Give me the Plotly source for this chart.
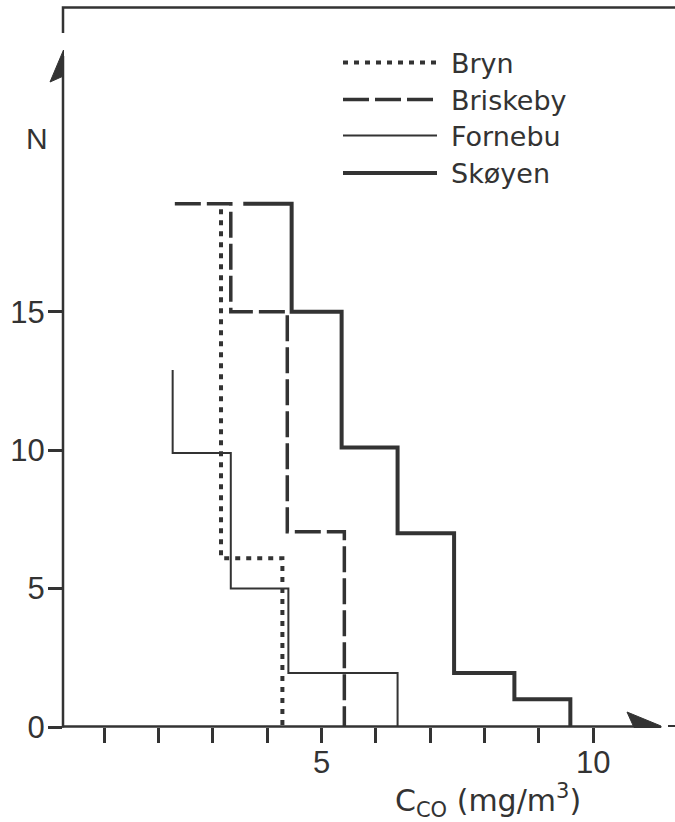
import plotly.graph_objects as go

# ---------------- data ----------------
series_names = ["Bryn", "Briskeby", "Fornebu", "Skøyen"]

bryn_edges = [3.15, 4.28]
bryn_counts = [6.1]
bryn_start = 18.7

briskeby_edges = [2.30, 3.33, 4.37, 5.42]
briskeby_counts = [18.9, 15.0, 7.05]

fornebu_edges = [2.26, 3.33, 4.39, 6.40]
fornebu_counts = [9.9, 5.0, 1.95]
fornebu_start = 12.9

skoyen_edges = [3.56, 4.45, 5.37, 6.40, 7.44, 8.55, 9.58]
skoyen_counts = [18.9, 15.0, 10.1, 7.0, 1.95, 1.0]

x_major_ticks = [5, 10]
x_major_labels = ["5", "10"]
x_minor_ticks = [1, 2, 3, 4, 6, 7, 8, 9]
y_ticks = [0, 5, 10, 15]
y_tick_labels = ["0", "5", "10", "15"]

x_title = "C<sub>CO</sub> (mg/m<sup>3</sup>)"
y_title = "N"

# ---------------- layout constants ----------------
W, H = 675, 822
ML, MR, MT, MB = 63, 0, 0, 95
X_PX0, X_PX_PER = 49.87, 54.33      # pixel of x=0, pixels per unit
Y_PX0, Y_PX_PER = 726.7, 27.67      # pixel of N=0, pixels per unit
INK = "#333333"

x_range = [(ML - X_PX0) / X_PX_PER, (W - MR - X_PX0) / X_PX_PER]
y_range = [0, (Y_PX0 - MT) / Y_PX_PER]

PW = W - ML - MR
PH = H - MT - MB


def px(xp):
    return (xp - ML) / PW


def py(yp):
    return (H - MB - yp) / PH


def step_path(edges, counts, start=None):
    xs, ys = [], []
    if start is not None:
        xs.append(edges[0])
        ys.append(start)
    for i, c in enumerate(counts):
        xs += [edges[i], edges[i + 1]]
        ys += [c, c]
    xs.append(edges[-1])
    ys.append(0)
    return xs, ys


styles = {
    "Bryn": dict(width=4, dash="5px,6px"),
    "Briskeby": dict(width=3.5, dash="26px,6px"),
    "Fornebu": dict(width=2, dash="solid"),
    "Skøyen": dict(width=4, dash="solid"),
}

paths = {
    "Bryn": step_path(bryn_edges, bryn_counts, bryn_start),
    "Briskeby": step_path(briskeby_edges, briskeby_counts),
    "Fornebu": step_path(fornebu_edges, fornebu_counts, fornebu_start),
    "Skøyen": step_path(skoyen_edges, skoyen_counts),
}

fig = go.Figure()
for name in ["Fornebu", "Bryn", "Briskeby", "Skøyen"]:
    xs, ys = paths[name]
    st = styles[name]
    fig.add_trace(go.Scatter(
        x=xs, y=ys, mode="lines", name=name, showlegend=False,
        line=dict(color=INK, width=st["width"], dash=st["dash"]),
        cliponaxis=False,
    ))

shapes = []
# x axis line + arrow
shapes.append(dict(type="line", xref="paper", yref="paper",
                   x0=px(62), y0=py(726.5), x1=px(650), y1=py(726.5),
                   line=dict(color=INK, width=2.5)))
shapes.append(dict(type="path", xref="paper", yref="paper",
                   path=f"M{px(661)},{py(726)} L{px(627)},{py(712)} L{px(634)},{py(727.5)} L{px(661)},{py(727.5)} Z",
                   fillcolor=INK, line=dict(color=INK, width=1)))
shapes.append(dict(type="line", xref="paper", yref="paper",
                   x0=px(668), y0=py(726), x1=px(675), y1=py(726),
                   line=dict(color=INK, width=2)))
# y axis line + arrow
shapes.append(dict(type="line", xref="paper", yref="paper",
                   x0=px(63), y0=py(727.5), x1=px(63), y1=py(56),
                   line=dict(color=INK, width=2.5)))
shapes.append(dict(type="path", xref="paper", yref="paper",
                   path=f"M{px(63.5)},{py(50)} L{px(50)},{py(82)} L{px(63.5)},{py(76)} Z",
                   fillcolor=INK, line=dict(color=INK, width=1)))
# top frame
shapes.append(dict(type="path", xref="paper", yref="paper",
                   path=f"M{px(63)},{py(33)} L{px(63)},{py(7.5)} L{px(676)},{py(7.5)}",
                   line=dict(color=INK, width=2.5)))

annotations = []
# legend
legend_rows = [62.5, 99.5, 135.5, 173]
for name, yrow in zip(series_names, legend_rows):
    st = styles[name]
    shapes.append(dict(type="line", xref="paper", yref="paper",
                       x0=px(343), y0=py(yrow), x1=px(437), y1=py(yrow),
                       line=dict(color=INK, width=st["width"], dash=st["dash"])))
    annotations.append(dict(xref="paper", yref="paper", x=px(449), y=py(yrow + 1),
                            text=name, showarrow=False, xanchor="left", yanchor="middle",
                            font=dict(family="DejaVu Sans", size=27, color=INK)))

annotations.append(dict(xref="paper", yref="paper", x=px(488), y=py(800),
                        text=x_title, showarrow=False, xanchor="center", yanchor="middle",
                        font=dict(family="DejaVu Sans", size=30, color=INK)))
annotations.append(dict(xref="paper", yref="paper", x=px(37), y=py(139),
                        text=y_title, showarrow=False, xanchor="center", yanchor="middle",
                        font=dict(family="Liberation Sans", size=30, color=INK)))

fig.update_layout(
    width=W, height=H,
    margin=dict(l=ML, r=MR, t=MT, b=MB, pad=0),
    paper_bgcolor="white", plot_bgcolor="white",
    showlegend=False,
    shapes=shapes, annotations=annotations,
    xaxis=dict(range=x_range, showgrid=False, zeroline=False, showline=False,
               tickmode="array", tickvals=x_major_ticks, ticktext=x_major_labels,
               ticks="outside", ticklen=15, tickwidth=2.5, tickcolor=INK,
               ticklabelstandoff=-7,
               minor=dict(tickmode="array", tickvals=x_minor_ticks, ticks="outside",
                          ticklen=15, tickwidth=2.5, tickcolor=INK, showgrid=False),
               tickfont=dict(family="Liberation Sans", size=31, color=INK)),
    yaxis=dict(range=y_range, showgrid=False, zeroline=False, showline=False,
               tickmode="array", tickvals=y_ticks, ticktext=y_tick_labels,
               ticks="outside", ticklen=14, tickwidth=2.5, tickcolor=INK,
               ticklabelstandoff=-3,
               tickfont=dict(family="Liberation Sans", size=31, color=INK)),
)

fig.write_html("out.html")
